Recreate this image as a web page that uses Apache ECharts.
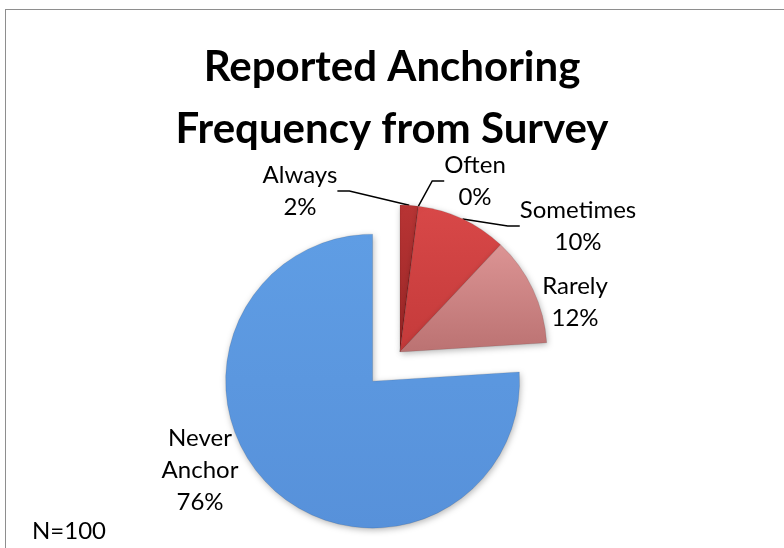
<!DOCTYPE html>
<html>
<head>
<meta charset="utf-8">
<title>Reported Anchoring Frequency from Survey</title>
<script src="https://cdn.jsdelivr.net/npm/echarts@6/dist/echarts.min.js"></script>
<style>
  html, body { margin: 0; padding: 0; background: #ffffff; overflow: hidden; }
  #frame { position: absolute; left: 5px; top: 9px; width: 800px; height: 600px;
           border: 1px solid #8e8e8e; box-sizing: border-box; }
  #chart { position: absolute; left: 0; top: 0; width: 784px; height: 548px; }
</style>
</head>
<body>
<div id="frame"></div>
<div id="chart"></div>
<script>
// Survey answers (N = 100 respondents)
const categories = ['Always', 'Often', 'Sometimes', 'Rarely', 'Never Anchor'];
const counts = [2, 0, 10, 12, 76];
const sampleSize = 100;

// The slice that is pulled out of the pie
const explodedName = 'Never Anchor';

// Slice fills: top / bottom of a soft vertical gradient
const sliceColors = {
  'Always':       ['#b83434', '#9a2626'],
  'Often':        ['#c63c3c', '#a83030'],
  'Sometimes':    ['#d84848', '#c43a3a'],
  'Rarely':       ['#dc9494', '#bb7272'],
  'Never Anchor': ['#5f9de4', '#5791da']
};

// Centre of each label block
const labelSpots = {
  'Always':       [300, 191],
  'Often':        [475, 181],
  'Sometimes':    [578, 226],
  'Rarely':       [575, 302],
  'Never Anchor': [200, 470]
};
const withLeader = ['Always', 'Often', 'Sometimes'];

const FONT = 'Lato, "Open Sans", "Noto Sans", sans-serif';
const PIE_CENTER = [400, 352];
const PIE_RADIUS = 147;
const EXPLODE_DIST = 40;

// Offset of the pulled-out slice: along its bisector, measured clockwise from 12 o'clock
const total = counts.reduce((a, b) => a + b, 0);
const explodedIdx = categories.indexOf(explodedName);
const before = counts.slice(0, explodedIdx).reduce((a, b) => a + b, 0);
const midAngle = ((before + counts[explodedIdx] / 2) / total) * 2 * Math.PI;
const explodedCenter = [
  PIE_CENTER[0] + EXPLODE_DIST * Math.sin(midAngle),
  PIE_CENTER[1] - EXPLODE_DIST * Math.cos(midAngle)
];

const chart = echarts.init(document.getElementById('chart'), null, { renderer: 'canvas' });

function fill(name) {
  return {
    type: 'linear', x: 0, y: 0, x2: 0, y2: 1,
    colorStops: [
      { offset: 0, color: sliceColors[name][0] },
      { offset: 1, color: sliceColors[name][1] }
    ]
  };
}

const hidden = {
  itemStyle: { color: 'rgba(0,0,0,0)', borderWidth: 0, shadowBlur: 0, shadowColor: 'rgba(0,0,0,0)' },
  label: { show: false },
  labelLine: { show: false }
};

// One ring drawn twice: the resting slices, and the pulled-out slice at its own centre
function ringData(showExploded) {
  return categories.map((name, i) => {
    const visible = (name === explodedName) === showExploded;
    const item = { name: name, value: counts[i] };
    if (!visible) return Object.assign(item, hidden);
    item.itemStyle = { color: fill(name) };
    item.labelLine = { show: withLeader.indexOf(name) >= 0 };
    return item;
  });
}

function pieSeries(center, data) {
  return {
    type: 'pie',
    center: center,
    radius: PIE_RADIUS,
    startAngle: 90,
    clockwise: true,
    avoidLabelOverlap: false,
    minShowLabelAngle: 0,
    silent: true,
    itemStyle: {
      borderColor: 'rgba(0,0,0,0.18)',
      borderWidth: 0.6,
      shadowBlur: 6,
      shadowOffsetX: 1,
      shadowOffsetY: 2,
      shadowColor: 'rgba(0,0,0,0.28)'
    },
    emphasis: { disabled: true, scale: false },
    label: {
      show: true,
      position: 'outside',
      fontFamily: FONT,
      fontSize: 24,
      lineHeight: 32,
      color: '#000000',
      align: 'center',
      formatter: p => p.name.replace(' ', '\n') + '\n' + p.percent + '%'
    },
    labelLine: {
      show: true,
      length: 12,
      length2: 12,
      lineStyle: { color: '#000000', width: 1.5 }
    },
    labelLayout: params => {
      const spot = labelSpots[categories[params.dataIndex]];
      return { x: spot[0], y: spot[1], align: 'center', verticalAlign: 'middle' };
    },
    data: data
  };
}

chart.setOption({
  animation: false,
  title: [
    {
      text: 'Reported Anchoring\nFrequency from Survey',
      left: 'center',
      top: 31,
      textStyle: {
        fontFamily: FONT,
        fontWeight: 'bold',
        fontSize: 42,
        lineHeight: 62,
        color: '#000000'
      }
    },
    {
      text: 'N=' + sampleSize,
      left: 27,
      top: 510,
      textStyle: {
        fontFamily: FONT,
        fontWeight: 'normal',
        fontSize: 24,
        lineHeight: 32,
        color: '#000000'
      }
    }
  ],
  series: [
    pieSeries(explodedCenter, ringData(true)),
    pieSeries(PIE_CENTER, ringData(false))
  ]
});
</script>
</body>
</html>
